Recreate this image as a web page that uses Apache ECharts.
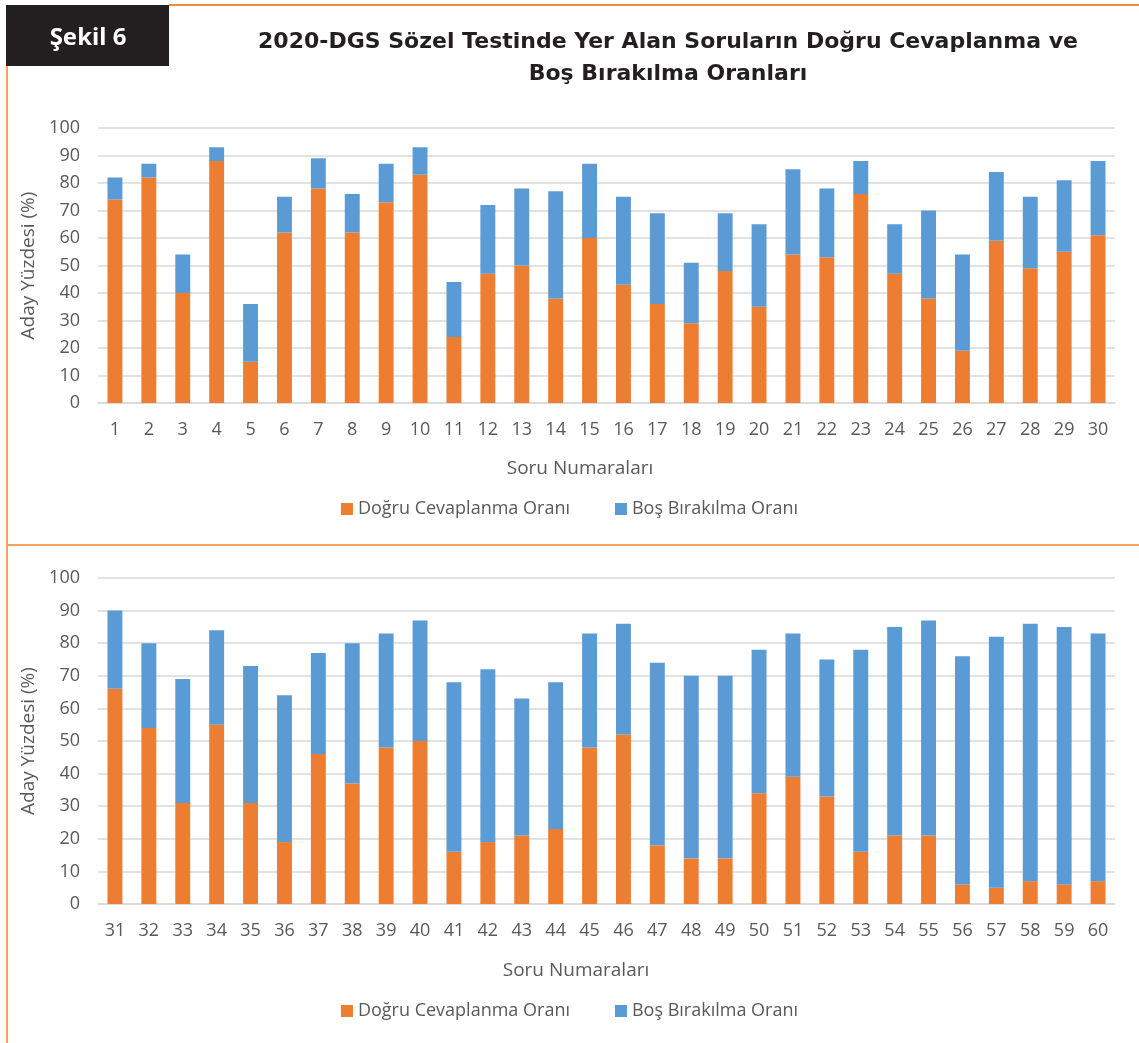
<!DOCTYPE html>
<html>
<head>
<meta charset="utf-8">
<script src="https://cdn.jsdelivr.net/npm/echarts@6/dist/echarts.min.js"></script>
<style>
    html, body { margin: 0; padding: 0; background: #ffffff; }
    #chart { width: 1139px; height: 1043px; }
</style>
</head>
<body>
<div id="chart"></div>
<script>
// soru numaralari
var questionsTop = ['1', '2', '3', '4', '5', '6', '7', '8', '9', '10', '11', '12', '13', '14', '15',
    '16', '17', '18', '19', '20', '21', '22', '23', '24', '25', '26', '27', '28', '29', '30'];
var questionsBottom = ['31', '32', '33', '34', '35', '36', '37', '38', '39', '40', '41', '42', '43', '44', '45',
    '46', '47', '48', '49', '50', '51', '52', '53', '54', '55', '56', '57', '58', '59', '60'];

// dogru cevaplanma orani (%)
var correctTop = [74, 82, 40, 88, 15, 62, 78, 62, 73, 83, 24, 47, 50, 38, 60,
    43, 36, 29, 48, 35, 54, 53, 76, 47, 38, 19, 59, 49, 55, 61];
var correctBottom = [66, 54, 31, 55, 31, 19, 46, 37, 48, 50, 16, 19, 21, 23, 48,
    52, 18, 14, 14, 34, 39, 33, 16, 21, 21, 6, 5, 7, 6, 7];

// bos birakilma orani (%)
var blankTop = [8, 5, 14, 5, 21, 13, 11, 14, 14, 10, 20, 25, 28, 39, 27,
    32, 33, 22, 21, 30, 31, 25, 12, 18, 32, 35, 25, 26, 26, 27];
var blankBottom = [24, 26, 38, 29, 42, 45, 31, 43, 35, 37, 52, 53, 42, 45, 35,
    34, 56, 56, 56, 44, 44, 42, 62, 64, 66, 70, 77, 79, 79, 76];

var seriesNames = ['Doğru Cevaplanma Oranı', 'Boş Bırakılma Oranı'];
var tickValues = [0, 10, 20, 30, 40, 50, 60, 70, 80, 90, 100];

var lineColor = '#f4a261';
var labelFont = 'Open Sans';
var titleFont = 'bold 22px "DejaVu Sans"';

var chart = echarts.init(document.getElementById('chart'));

function xAxisFor(gridIndex, cats) {
    return {
        type: 'category',
        gridIndex: gridIndex,
        data: cats,
        axisLine: { lineStyle: { color: '#d9d9d9', width: 1.5 } },
        axisTick: { show: false },
        axisLabel: { color: '#595959', fontSize: 18, fontFamily: labelFont, margin: 18 }
    };
}

function yAxisFor(gridIndex) {
    return {
        type: 'value',
        gridIndex: gridIndex,
        min: tickValues[0],
        max: tickValues[tickValues.length - 1],
        interval: 10,
        name: 'Aday Yüzdesi (%)',
        nameLocation: 'middle',
        nameGap: 58,
        nameTextStyle: { color: '#595959', fontSize: 19, fontFamily: labelFont },
        axisLine: { show: false },
        axisTick: { show: false },
        axisLabel: { color: '#595959', fontSize: 18, fontFamily: labelFont, margin: 18 },
        splitLine: { lineStyle: { color: '#d9d9d9', width: 1.5 } }
    };
}

function legendAt(top) {
    return {
        top: top,
        left: 'center',
        padding: 0,
        itemWidth: 12,
        itemHeight: 12,
        itemGap: 45,
        icon: 'rect',
        data: seriesNames,
        textStyle: { color: '#595959', fontSize: 18, fontFamily: labelFont }
    };
}

function barSeries(name, xi, stack, color, values) {
    return {
        name: name,
        type: 'bar',
        xAxisIndex: xi,
        yAxisIndex: xi,
        stack: stack,
        barWidth: '44%',
        itemStyle: { color: color },
        data: values
    };
}

var option = {
    backgroundColor: '#ffffff',
    animation: false,
    color: ['#ed7d31', '#5b9bd5'],
    grid: [
        { left: 98, right: 24, top: 128, height: 275 },
        { left: 98, right: 24, top: 578, height: 326 }
    ],
    xAxis: [xAxisFor(0, questionsTop), xAxisFor(1, questionsBottom)],
    yAxis: [yAxisFor(0), yAxisFor(1)],
    legend: [legendAt(500), legendAt(1002)],
    series: [
        barSeries(seriesNames[0], 0, 'ust', '#ed7d31', correctTop),
        barSeries(seriesNames[1], 0, 'ust', '#5b9bd5', blankTop),
        barSeries(seriesNames[0], 1, 'alt', '#ed7d31', correctBottom),
        barSeries(seriesNames[1], 1, 'alt', '#5b9bd5', blankBottom)
    ],
    graphic: [
        // cerceve cizgileri
        { type: 'line', shape: { x1: 169, y1: 5, x2: 1139, y2: 5 }, style: { stroke: '#ef8a3e', lineWidth: 2 } },
        { type: 'line', shape: { x1: 7, y1: 66, x2: 7, y2: 1043 }, style: { stroke: lineColor, lineWidth: 2 } },
        { type: 'line', shape: { x1: 7, y1: 545, x2: 1139, y2: 545 }, style: { stroke: lineColor, lineWidth: 2 } },
        // sekil kutusu
        { type: 'rect', shape: { x: 6, y: 5, width: 163, height: 61 }, style: { fill: '#231f20' } },
        {
            type: 'text', x: 88, y: 38,
            style: { text: 'Şekil 6', fill: '#ffffff', font: 'bold 24px "Noto Sans"', textAlign: 'center', textVerticalAlign: 'middle' }
        },
        {
            type: 'text', x: 668, y: 42,
            style: { text: '2020-DGS Sözel Testinde Yer Alan Soruların Doğru Cevaplanma ve', fill: '#231f20', font: titleFont, textAlign: 'center', textVerticalAlign: 'middle' }
        },
        {
            type: 'text', x: 668, y: 74,
            style: { text: 'Boş Bırakılma Oranları', fill: '#231f20', font: titleFont, textAlign: 'center', textVerticalAlign: 'middle' }
        },
        // eksen basliklari
        {
            type: 'text', x: 580, y: 469,
            style: { text: 'Soru Numaraları', fill: '#595959', font: '19px "Open Sans"', textAlign: 'center', textVerticalAlign: 'middle' }
        },
        {
            type: 'text', x: 576, y: 971,
            style: { text: 'Soru Numaraları', fill: '#595959', font: '19px "Open Sans"', textAlign: 'center', textVerticalAlign: 'middle' }
        }
    ]
};

chart.setOption(option);
</script>
</body>
</html>
